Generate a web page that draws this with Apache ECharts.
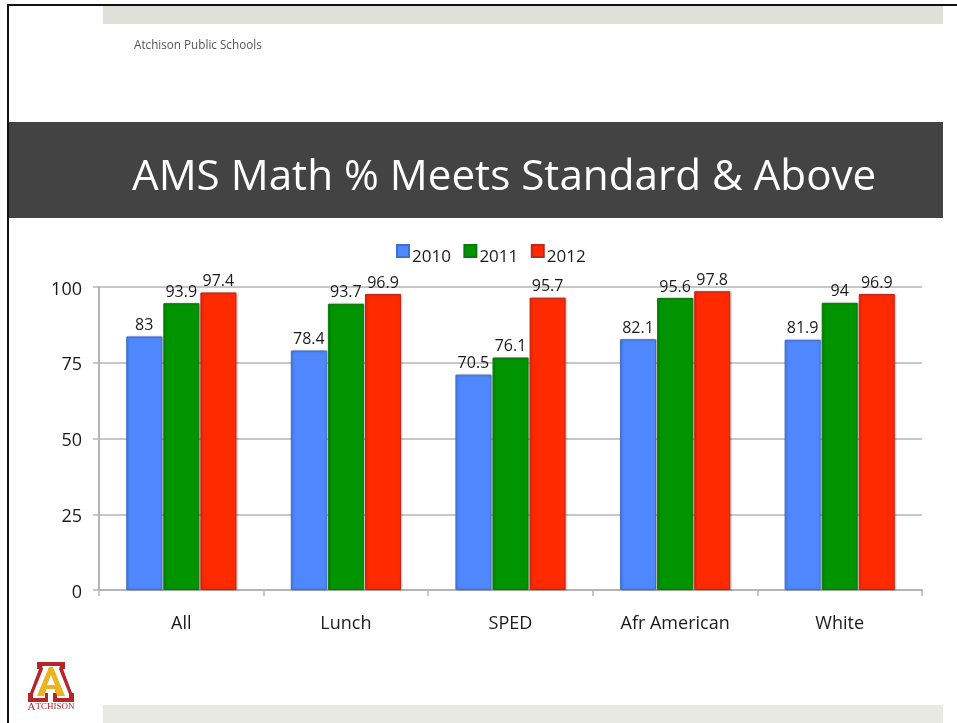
<!DOCTYPE html>
<html><head><meta charset="utf-8">
<style>html,body{margin:0;padding:0;background:#fff}#c{width:957px;height:723px}</style>
<script src="https://cdn.jsdelivr.net/npm/echarts@6/dist/echarts.min.js"></script>
</head><body><div id="c"></div>
<script>
const categories = ['All','Lunch','SPED','Afr American','White'];
const years = ['2010','2011','2012'];
const v2010 = [83,78.4,70.5,82.1,81.9];
const v2011 = [93.9,93.7,76.1,95.6,94];
const v2012 = [97.4,96.9,95.7,97.8,96.9];
const font = '"Open Sans"';
const chart = echarts.init(document.getElementById('c'),null,{renderer:'canvas'});
function s(name,data,color,border){return {name,type:'bar',data,yAxisIndex:1,barWidth:36,barGap:'3%',z:3,
  itemStyle:{color,borderColor:border,borderWidth:1,shadowColor:'rgba(0,0,0,0.25)',shadowBlur:2,shadowOffsetX:1},
  label:{show:true,position:'top',distance:3,fontFamily:font,fontSize:16,color:'#1a1a1a',formatter:p=>String(p.value)}};}
const red='#b3262a', gold='#eab422';
chart.setOption({
  animation:false,backgroundColor:'#fff',
  legend:{data:years,left:391,top:239,itemWidth:12,itemHeight:12,itemGap:12.5,icon:'rect',
    formatter:n=>'{t|'+n+'}',
    textStyle:{fontFamily:font,fontSize:17,color:'#1a1a1a',rich:{t:{fontFamily:font,fontSize:17,color:'#1a1a1a',padding:[12,0,0,-2]}}}},
  grid:{left:99,right:35,top:287,bottom:133,containLabel:false},
  xAxis:{type:'category',data:categories,
    axisLine:{lineStyle:{color:'#b5b5b5',width:2}},
    axisTick:{show:true,length:6,alignWithLabel:false,lineStyle:{color:'#b5b5b5',width:1.5}},
    axisLabel:{fontFamily:font,fontSize:18,color:'#1a1a1a',margin:25}},
  yAxis:[{type:'value',min:0,max:100,interval:25,
    axisLine:{show:true,lineStyle:{color:'#b5b5b5',width:2}},
    axisTick:{show:true,length:6,lineStyle:{color:'#b5b5b5',width:1.5}},
    axisLabel:{fontFamily:font,fontSize:18,color:'#1a1a1a',margin:17,verticalAlign:'top',lineHeight:5},
    splitLine:{show:true,lineStyle:{color:'#b5b5b5',width:1.5}}},
    {type:'value',min:0,max:99.2,show:false,splitLine:{show:false}}],
  series:[s(years[0],v2010,'#4f87ff','#3f6fcf'),s(years[1],v2011,'#009400','#0b7a0b'),s(years[2],v2012,'#ff2a00','#c4261a')],
  graphic:[
    {type:'rect',shape:{x:103,y:6,width:840,height:18},style:{fill:'#dfe0d8'},silent:true},
    {type:'rect',shape:{x:103,y:705,width:840,height:18},style:{fill:'#e9e9e3'},silent:true},
    {type:'rect',shape:{x:7,y:4,width:950,height:2},style:{fill:'#111'},silent:true},
    {type:'rect',shape:{x:7,y:4,width:2,height:719},style:{fill:'#111'},silent:true},
    {type:'rect',shape:{x:9,y:122,width:934,height:96},style:{fill:'#434343'},silent:true},
    {type:'text',x:134,y:46,style:{text:'Atchison Public Schools',fontFamily:font,fontSize:11.7,fill:'#555',verticalAlign:'middle'},silent:true},
    {type:'text',x:132,y:177.5,style:{text:'AMS Math % Meets Standard & Above',fontFamily:font,fontSize:42.2,fill:'#fff',verticalAlign:'middle'},silent:true},
    // logo
    {type:'polygon',shape:{points:[[37,662],[65,662],[65,669],[63,669],[72,693],[74,693],[74,702],[53,702],[53,693],[56,693],[55,690],[46,690],[45,693],[48,693],[48,702],[28,702],[28,693],[30,693],[39,669],[37,669]]},style:{fill:red},silent:true},
    {type:'polygon',shape:{points:[[42,666],[60,666],[59,669],[69,694],[69,698],[57,698],[57,690],[45,690],[45,698],[33,698],[33,694],[43,669]]},style:{fill:'#fff'},silent:true},
    {type:'polygon',shape:{points:[[49,667],[53,667],[65,696],[57,696],[55,689],[46,689],[44,696],[37,696]]},style:{fill:gold},silent:true},
    {type:'polygon',shape:{points:[[51,675],[55,685],[47,685]]},style:{fill:'#fff'},silent:true},
    {type:'text',x:51,y:707,style:{text:'{a|A}{b|TCHISON}',align:'center',verticalAlign:'middle',rich:{a:{fontFamily:'"Liberation Serif"',fontSize:11,fill:red,color:red},b:{fontFamily:'"Liberation Serif"',fontSize:9,color:red,fill:red}}},silent:true}
  ]
});
</script></body></html>
